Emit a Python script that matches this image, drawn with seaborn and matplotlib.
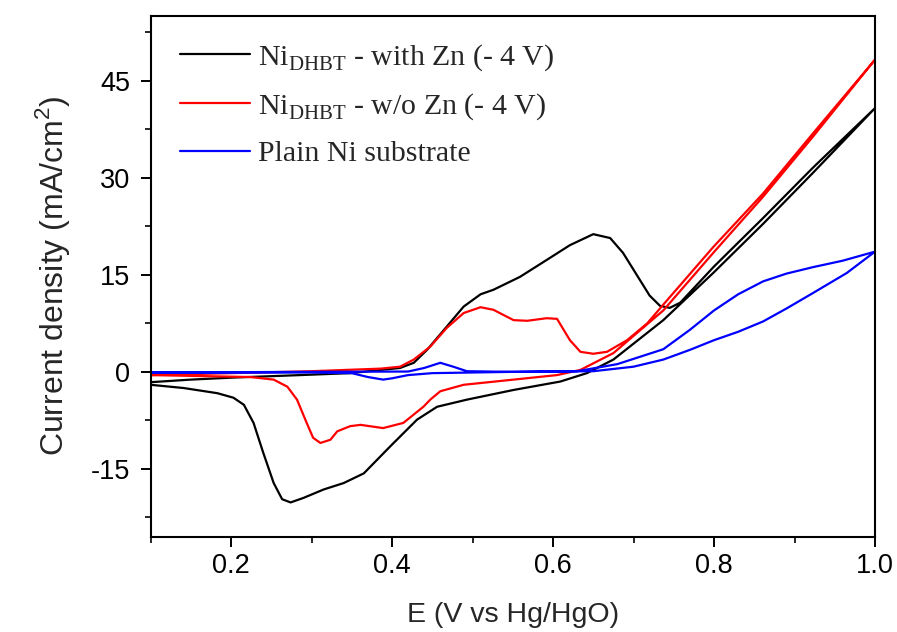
import matplotlib
matplotlib.use("Agg")
import matplotlib.pyplot as plt
import seaborn as sns

# Ni_DHBT with Zn (-4 V): anodic sweep then cathodic sweep
zn_fwd_E = [0.10, 0.15, 0.20, 0.286, 0.348, 0.386, 0.41, 0.427, 0.4435, 0.468, 0.489,
            0.51, 0.526, 0.559, 0.592, 0.621, 0.65, 0.671, 0.687, 0.708, 0.72, 0.733,
            0.745, 0.758, 0.80, 0.861, 0.923, 1.00]
zn_fwd_j = [-1.6, -1.2, -0.9, -0.5, -0.2, 0.3, 0.6, 1.4, 3.4, 7.0, 10.1,
            12.0, 12.7, 14.7, 17.3, 19.6, 21.3, 20.7, 18.4, 14.2, 11.8, 10.2,
            9.9, 10.7, 16.3, 23.8, 31.6, 40.8]
zn_rev_E = [1.00, 0.923, 0.861, 0.799, 0.737, 0.675, 0.642, 0.609, 0.551, 0.493, 0.456,
            0.431, 0.398, 0.365, 0.34, 0.315, 0.29, 0.274, 0.2635, 0.253, 0.24, 0.228,
            0.216, 0.203, 0.183, 0.141, 0.10]
zn_rev_j = [40.8, 30.8, 22.9, 15.3, 8.0, 1.9, -0.2, -1.5, -2.8, -4.3, -5.4,
            -7.4, -11.5, -15.7, -17.2, -18.2, -19.5, -20.2, -19.7, -17.2, -12.5, -7.9,
            -5.1, -4.0, -3.3, -2.5, -2.0]

# Ni_DHBT without Zn (-4 V)
nozn_fwd_E = [0.10, 0.20, 0.30, 0.386, 0.41, 0.427, 0.4475, 0.468, 0.489, 0.51, 0.526,
              0.551, 0.568, 0.592, 0.605, 0.621, 0.634, 0.65, 0.667, 0.692, 0.717, 0.737,
              0.799, 0.861, 0.923, 1.00]
nozn_fwd_j = [-0.5, -0.2, 0.1, 0.5, 0.8, 1.9, 3.9, 6.8, 9.1, 10.0, 9.6,
              8.0, 7.9, 8.3, 8.2, 4.9, 3.1, 2.8, 3.1, 4.9, 7.5, 10.4,
              19.3, 27.6, 36.9, 48.3]
nozn_rev_E = [1.00, 0.923, 0.861, 0.799, 0.737, 0.675, 0.634, 0.605, 0.551, 0.489, 0.46,
              0.4475, 0.439, 0.414, 0.389, 0.361, 0.348, 0.332, 0.3235, 0.311, 0.302, 0.294,
              0.282, 0.27, 0.253, 0.224, 0.10]
nozn_rev_j = [48.3, 36.4, 27.1, 18.4, 9.5, 2.9, 0.3, -0.5, -1.2, -2.0, -3.0,
              -4.3, -5.4, -7.9, -8.7, -8.2, -8.4, -9.2, -10.5, -11.0, -10.2, -7.9,
              -4.3, -2.3, -1.2, -0.8, -0.5]

# Plain Ni substrate
ni_fwd_E = [0.10, 0.30, 0.42, 0.44, 0.46, 0.476, 0.493, 0.55, 0.63, 0.68, 0.737,
            0.77, 0.80, 0.83, 0.861, 0.89, 0.923, 0.96, 1.00]
ni_fwd_j = [-0.1, 0.0, 0.05, 0.6, 1.4, 0.8, 0.1, 0.0, 0.1, 1.2, 3.5,
            6.5, 9.5, 12.0, 14.0, 15.2, 16.2, 17.2, 18.6]
ni_rev_E = [1.00, 0.965, 0.923, 0.89, 0.861, 0.83, 0.80, 0.77, 0.737, 0.70, 0.65,
            0.55, 0.45, 0.42, 0.40, 0.389, 0.37, 0.35, 0.30, 0.10]
ni_rev_j = [18.6, 15.3, 12.2, 9.8, 7.8, 6.2, 4.9, 3.4, 1.9, 0.8, 0.1,
            0.0, -0.2, -0.5, -1.0, -1.2, -0.8, -0.2, -0.1, -0.1]

labels = [r"Ni$_{\mathrm{DHBT}}$ - with Zn (- 4 V)",
          r"Ni$_{\mathrm{DHBT}}$ - w/o Zn (- 4 V)",
          "Plain Ni substrate"]
colors = ["black", "#ff0000", "#0000ff"]

sns.set_style("ticks")
plt.rcParams["font.family"] = ["Liberation Sans", "DejaVu Sans"]
plt.rcParams["mathtext.fontset"] = "custom"
plt.rcParams["mathtext.rm"] = "Liberation Serif"
plt.rcParams["mathtext.sf"] = "Liberation Sans"

fig = plt.figure(figsize=(8.97, 6.32), dpi=100)
ax = fig.add_axes([0.1678, 0.1508, 0.8077, 0.8244])

series = [
    (zn_fwd_E + zn_rev_E, zn_fwd_j + zn_rev_j),
    (nozn_fwd_E + nozn_rev_E, nozn_fwd_j + nozn_rev_j),
    (ni_fwd_E + ni_rev_E, ni_fwd_j + ni_rev_j),
]
for (E, j), lab, col in zip(series, labels, colors):
    sns.lineplot(x=E, y=j, sort=False, estimator=None, color=col,
                 linewidth=1.6, label=lab, ax=ax)

ax.set_xlim(0.1, 1.0)
ax.set_ylim(-25.5, 55.1)
ax.set_xticks([0.2, 0.4, 0.6, 0.8, 1.0])
ax.set_xticks([0.1, 0.3, 0.5, 0.7, 0.9], minor=True)
ax.set_yticks([-15, 0, 15, 30, 45])
ax.set_yticks([-22.5, -7.5, 7.5, 22.5, 37.5, 52.5], minor=True)
ax.set_xticklabels(["0.2", "0.4", "0.6", "0.8", "1.0"])
ax.set_yticklabels(["-15", "0", "15", "30", "45"])

ax.tick_params(which="major", direction="out", length=7.5, width=1.4, labelsize=19.5, colors="black")
ax.tick_params(which="minor", direction="out", length=4, width=1.4)
ax.tick_params(axis="x", which="major", pad=4)
ax.tick_params(axis="y", which="major", pad=7)
for s in ax.spines.values():
    s.set_visible(True)
    s.set_linewidth(1.5)
    s.set_color("black")

ax.set_xlabel("E (V vs Hg/HgO)", fontsize=20.5, labelpad=17)
ax.set_ylabel(r"Current density (mA/cm$^{\mathsf{2}}$)", fontsize=23, labelpad=14)

ax.legend(loc="upper left", bbox_to_anchor=(180 / 897, (632 - 42) / 632),
          bbox_transform=fig.transFigure, frameon=False, borderpad=0, borderaxespad=0,
          handlelength=2.35, handletextpad=0.25, labelspacing=0.62,
          prop={"family": "Liberation Serif", "size": 21.5})

fig.savefig("out.png", dpi=100)
